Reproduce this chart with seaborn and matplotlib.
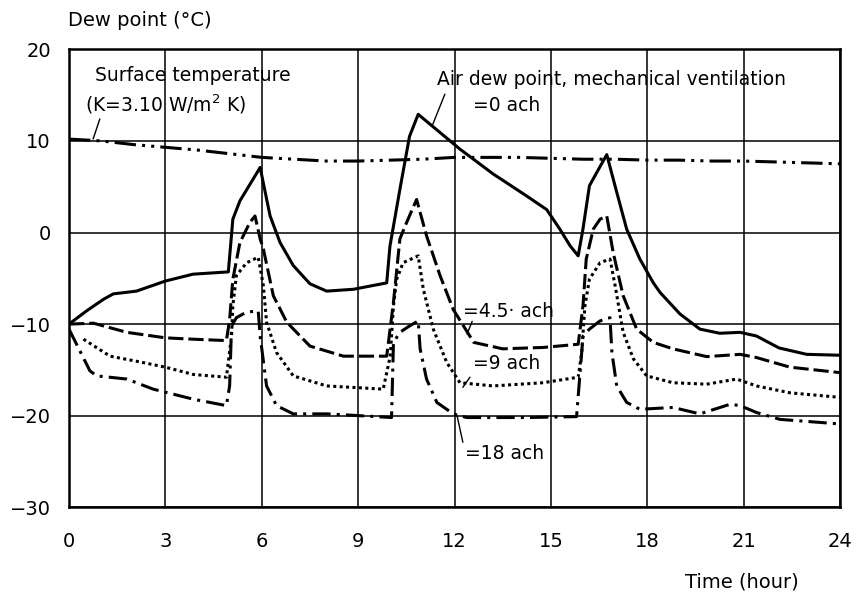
import numpy as np
import pandas as pd
import matplotlib
matplotlib.use("Agg")
import matplotlib.pyplot as plt
import seaborn as sns

# ---- data ----
surface_x = [0, 1, 2, 3, 4, 5, 6, 7, 8, 9, 10, 11, 12, 13, 14, 15, 16, 17, 18, 19, 20, 21, 22, 23, 24]
surface_y = [10.2, 10.0, 9.6, 9.3, 9.0, 8.6, 8.2, 8.0, 7.8, 7.8, 7.9, 8.0, 8.2, 8.2, 8.2, 8.1,
             8.0, 8.0, 7.9, 7.9, 7.8, 7.8, 7.7, 7.6, 7.5]

ach0_x = [0, 0.55, 1.07, 1.38, 2.1, 3.0, 3.86, 4.96, 5.1, 5.32, 5.95, 6.26, 6.57, 6.98, 7.5, 8.02,
          8.85, 9.89, 9.99, 10.3, 10.6, 10.87, 12.17, 13.2, 14.24, 14.87, 15.28, 15.6, 15.85, 16.0,
          16.2, 16.42, 16.74, 17.05, 17.36, 17.77, 18.19, 18.4, 19.02, 19.64, 20.26, 20.89, 21.4,
          22.1, 22.96, 24]
ach0_y = [-10, -8.55, -7.3, -6.7, -6.4, -5.3, -4.55, -4.3, 1.45, 3.45, 7.1, 1.8, -1.1, -3.6, -5.6,
          -6.4, -6.2, -5.5, -1.5, 4.7, 10.5, 12.9, 9.1, 6.4, 4.0, 2.5, 0.36, -1.46, -2.55, 0.4, 5.1,
          6.5, 8.5, 4.4, 0.36, -2.9, -5.5, -6.55, -8.9, -10.55, -11.0, -10.9, -11.3, -12.6, -13.3,
          -13.4]

ach45_x = [0, 0.76, 1.8, 3.0, 3.87, 4.9, 5.0, 5.1, 5.32, 5.63, 5.79, 5.95, 6.05, 6.36, 6.78, 7.5,
           8.54, 9.89, 10.1, 10.3, 10.51, 10.82, 11.13, 11.55, 11.96, 12.6, 13.5, 14.76, 15.85,
           16.0, 16.1, 16.32, 16.53, 16.74, 16.94, 17.25, 17.67, 18.19, 18.8, 19.85, 20.89, 21.4,
           22.44, 24]
ach45_y = [-10, -9.9, -10.9, -11.5, -11.65, -11.8, -9.5, -5.1, -1.1, 1.1, 1.8, -0.7, -1.8, -6.9,
           -9.8, -12.4, -13.5, -13.5, -7.6, -0.7, 1.1, 3.6, -0.36, -4.7, -8.4, -12.0, -12.7,
           -12.55, -12.2, -8.0, -2.9, 0.36, 1.45, 1.8, -2.2, -6.9, -10.55, -12.0, -12.7, -13.55,
           -13.3, -13.65, -14.7, -15.3]

ach9_x = [0.45, 1.28, 2.31, 3.0, 3.87, 4.9, 5.06, 5.1, 5.21, 5.53, 5.89, 6.05, 6.15, 6.46, 6.98,
          8.02, 9.78, 10.0, 10.1, 10.2, 10.4, 10.87, 11.03, 11.34, 11.76, 12.17, 13.2, 14.76,
          15.85, 15.96, 16.06, 16.2, 16.53, 16.84, 17.0, 17.25, 17.57, 17.98, 18.8, 19.85, 20.78,
          21.4, 22.44, 24]
ach9_y = [-11.65, -13.5, -14.2, -14.7, -15.5, -15.8, -11.3, -8.0, -4.7, -3.3, -2.7, -5.8, -9.8,
          -13.1, -15.65, -16.75, -17.1, -13.5, -8.0, -5.1, -3.3, -2.55, -6.2, -10.55, -14.2,
          -16.4, -16.75, -16.4, -15.8, -13.1, -8.0, -5.1, -3.3, -2.9, -5.8, -10.9, -13.8, -15.65,
          -16.4, -16.56, -16.0, -16.75, -17.5, -18.0]

ach18_x = [0, 0.65, 0.86, 1.8, 2.62, 3.87, 4.9, 5.0, 5.06, 5.21, 5.52, 5.89, 5.95, 6.15, 6.46,
           6.98, 8.02, 9.06, 10.04, 10.1, 10.3, 10.6, 10.87, 10.93, 11.13, 11.45, 11.96, 12.38,
           14.25, 15.8, 16.0, 16.2, 16.53, 16.84, 16.9, 17.05, 17.36, 17.77, 18.8, 19.64, 20.58,
           20.89, 21.4, 22.13, 24]
ach18_y = [-10.55, -15.1, -15.65, -16.0, -17.1, -18.2, -18.9, -16.75, -10.2, -9.3, -8.7, -8.55,
           -11.3, -16.75, -18.9, -19.8, -19.8, -20.0, -20.2, -12.0, -10.9, -10.2, -9.65, -12.7,
           -16.0, -18.55, -19.8, -20.2, -20.2, -20.1, -11.3, -10.55, -9.65, -9.3, -13.1, -16.75,
           -18.55, -19.3, -19.1, -19.8, -18.75, -18.9, -19.65, -20.4, -20.9]

x_ticks = [0, 3, 6, 9, 12, 15, 18, 21, 24]
y_ticks = [-30, -20, -10, 0, 10, 20]

series = {
    "surface": (surface_x, surface_y),
    "0 ach": (ach0_x, ach0_y),
    "4.5 ach": (ach45_x, ach45_y),
    "9 ach": (ach9_x, ach9_y),
    "18 ach": (ach18_x, ach18_y),
}
frames = []
for name, (xs, ys) in series.items():
    frames.append(pd.DataFrame({"series": name, "hour": xs, "dew": ys, "order": range(len(xs))}))
df = pd.concat(frames, ignore_index=True)

styles = {
    "surface": (0, (7, 2, 1, 2, 1, 2)),
    "0 ach": "-",
    "4.5 ach": (0, (5, 1.6)),
    "9 ach": (0, (1, 1.1)),
    "18 ach": (0, (6, 2, 1, 2)),
}

# ---- plot ----
sns.set_style("white")
plt.rcParams["font.family"] = ["DejaVu Sans"]
plt.rcParams["text.color"] = "black"

fig = plt.figure(figsize=(8.56, 5.97), dpi=100)
ax = fig.add_axes([69 / 856, 1 - 507.3 / 597, (840 - 69) / 856, (507.3 - 49.3) / 597])

for name in series:
    sub = df[df["series"] == name]
    sns.lineplot(data=sub, x="hour", y="dew", sort=False, estimator=None, color="black",
                 linewidth=2.2, linestyle=styles[name], ax=ax)

ax.set_xlim(0, 24)
ax.set_ylim(-30, 20)
ax.set_xticks(x_ticks)
ax.set_yticks(y_ticks)
ax.set_yticklabels([("\u2212" + str(-v)) if v < 0 else str(v) for v in y_ticks])
ax.grid(True, color="black", linewidth=1.1)
ax.set_axisbelow(True)
for s in ax.spines.values():
    s.set_color("black")
    s.set_linewidth(1.8)
ax.tick_params(axis="both", direction="out", length=7, width=1.2, color="black",
               labelsize=14, labelcolor="black")
ax.tick_params(axis="x", pad=11)
ax.tick_params(axis="y", pad=6)
ax.set_xlabel("")
ax.set_ylabel("")

fs = 13.5
ax.text(0.81, 17.1, "Surface temperature", fontsize=fs, va="center", ha="left")
ax.text(0.5, 14.0, "(K=3.10 W/m$^2$ K)", fontsize=fs, va="center", ha="left")
ax.text(11.46, 16.7, "Air dew point, mechanical ventilation", fontsize=fs, va="center", ha="left")
ax.text(12.58, 13.9, "=0 ach", fontsize=fs, va="center", ha="left")
ax.text(12.26, -8.6, "=4.5\u00b7 ach", fontsize=fs, va="center", ha="left")
ax.text(12.58, -14.3, "=9 ach", fontsize=fs, va="center", ha="left")
ax.text(12.33, -24.1, "=18 ach", fontsize=fs, va="center", ha="left")

lead = dict(arrowstyle="-", color="black", lw=1.0, shrinkA=0, shrinkB=0)
ax.annotate("", xy=(0.75, 10.2), xytext=(0.96, 12.4), arrowprops=lead)
ax.annotate("", xy=(11.3, 11.6), xytext=(11.7, 15.1), arrowprops=lead)
ax.annotate("", xy=(12.39, -11.1), xytext=(12.55, -9.7), arrowprops=lead)
ax.annotate("", xy=(12.26, -16.9), xytext=(12.48, -15.8), arrowprops=lead)
ax.annotate("", xy=(12.08, -20.0), xytext=(12.26, -22.9), arrowprops=lead)

fig.text(68 / 856, 1 - 20 / 597, "Dew point (\u00b0C)", fontsize=14, va="center", ha="left")
fig.text(685 / 856, 1 - 582 / 597, "Time (hour)", fontsize=14, va="center", ha="left")

fig.savefig("out.png", dpi=100)
